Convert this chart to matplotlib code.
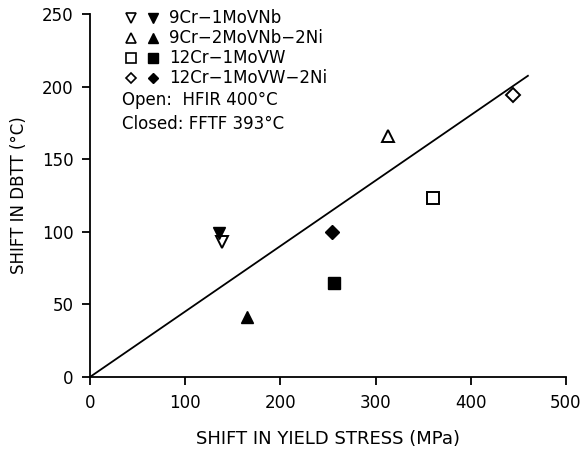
import matplotlib
matplotlib.use("Agg")
import matplotlib.pyplot as plt
from matplotlib.lines import Line2D
from matplotlib.legend_handler import HandlerTuple

plt.rcParams['font.family'] = ['DejaVu Sans']

# data: (yield stress shift MPa, DBTT shift °C)
alloys = ['9Cr\u22121MoVNb', '9Cr\u22122MoVNb\u22122Ni', '12Cr\u22121MoVW', '12Cr\u22121MoVW\u22122Ni']
markers = ['v', '^', 's', 'D']
open_x = [139, 313, 360, 444]      # HFIR 400°C
open_y = [93, 166, 123, 194]
closed_x = [136, 165, 256, 254]    # FFTF 393°C
closed_y = [99, 41, 65, 100]
fit_x = [0, 460]
fit_slope = 0.451

fig = plt.figure(figsize=(5.85, 4.53), dpi=100)
ax = fig.add_axes([0.1538, 0.1678, 0.8137, 0.8012])

handles = []
for i, m in enumerate(markers):
    ms = {'v': 8, '^': 8, 's': 8, 'D': 7}[m]
    ax.plot(open_x[i], open_y[i], m, ms=ms, mfc='white', mec='black', mew=1.4)
    ax.plot(closed_x[i], closed_y[i], m, ms=ms, mfc='black', mec='black', mew=1.0)
    lms = ms - 1.5
    h_open = Line2D([], [], marker=m, ls='none', ms=lms, mfc='white', mec='black', mew=1.2)
    h_closed = Line2D([], [], marker=m, ls='none', ms=lms, mfc='black', mec='black', mew=1.0)
    handles.append((h_open, h_closed))

ax.plot(fit_x, [fit_slope * x for x in fit_x], color='black', lw=1.3)

ax.set_xlim(0, 500)
ax.set_ylim(0, 250)
ax.set_xticks(range(0, 501, 100))
ax.set_yticks(range(0, 251, 50))
for s in ['top', 'right']:
    ax.spines[s].set_visible(False)
for s in ['left', 'bottom']:
    ax.spines[s].set_linewidth(1.3)
ax.tick_params(direction='out', length=6, width=1.3, labelsize=12, pad=6)
ax.set_xlabel('SHIFT IN YIELD STRESS (MPa)', fontsize=13, labelpad=13)
ax.set_ylabel('SHIFT IN DBTT (\u00b0C)', fontsize=12, labelpad=10)

leg = ax.legend(handles, alloys, handler_map={tuple: HandlerTuple(ndivide=None, pad=0.6)},
                loc='upper left', bbox_to_anchor=(0.05, 1.045), frameon=False,
                fontsize=12, handlelength=2.0, handletextpad=0.6, labelspacing=0.12,
                borderpad=0.2)
ax.text(0.067, 0.762, 'Open:  HFIR 400\u00b0C', transform=ax.transAxes, fontsize=12, va='center')
ax.text(0.067, 0.698, 'Closed: FFTF 393\u00b0C', transform=ax.transAxes, fontsize=12, va='center')

fig.savefig('out.png', dpi=100)
